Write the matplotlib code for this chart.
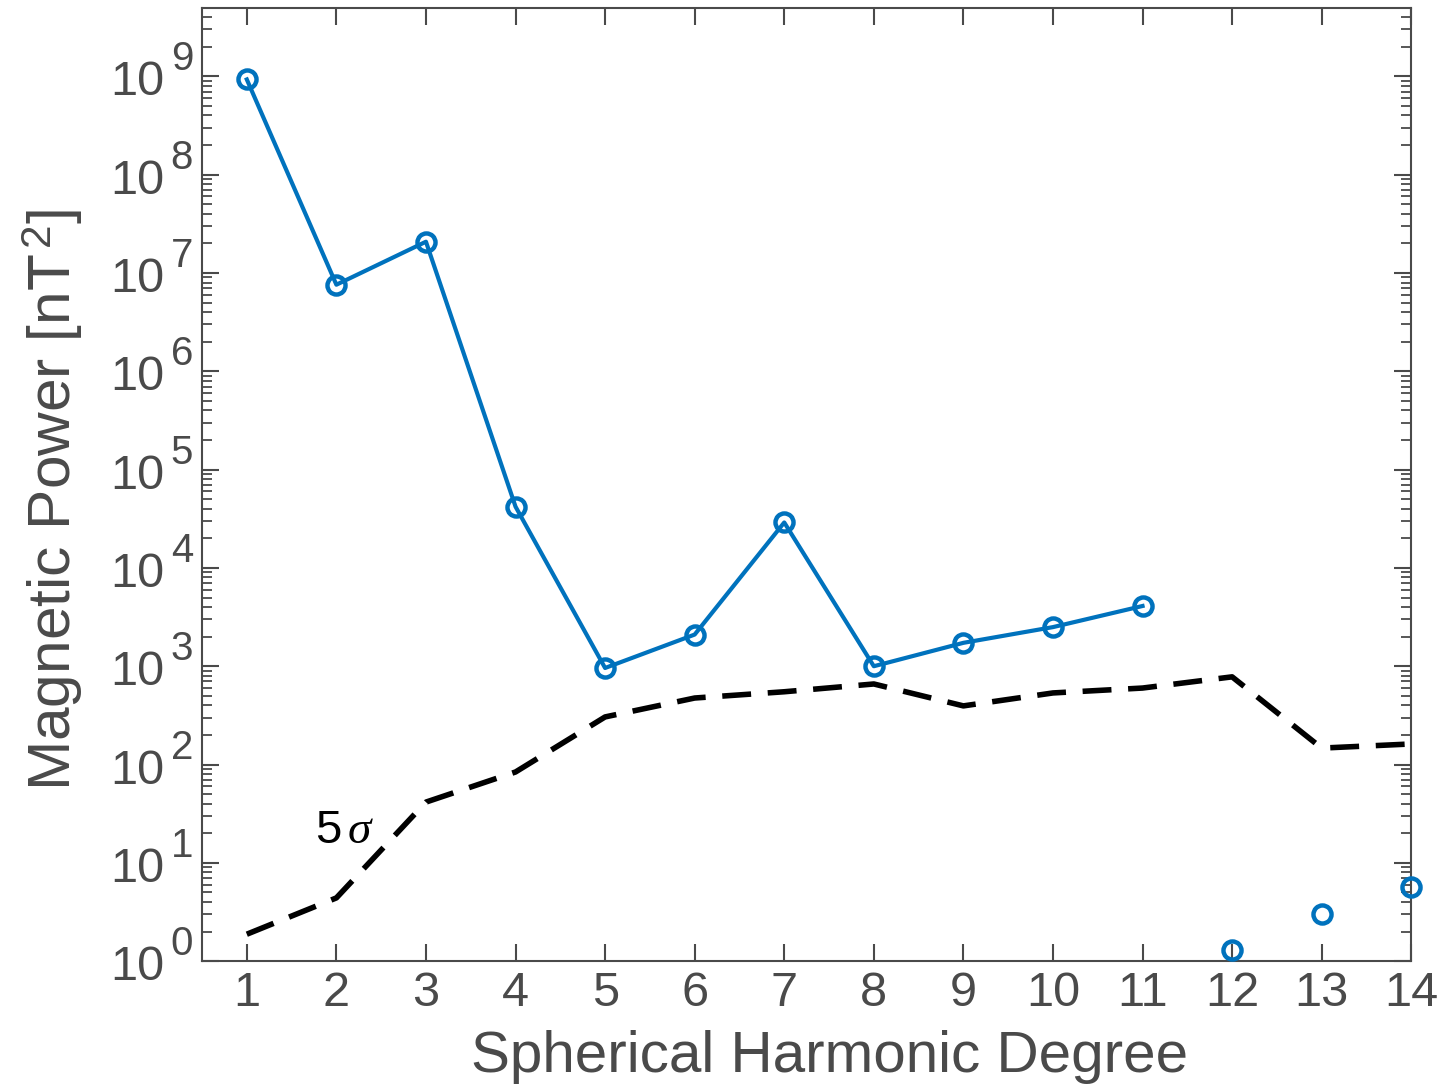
#!/usr/bin/env python3

import numpy as np
import matplotlib
matplotlib.use("Agg")
import matplotlib.pyplot as plt
from matplotlib.ticker import LogLocator, FixedLocator, NullFormatter

# spherical harmonic power spectrum of the fitted field
degree      = [1, 2, 3, 4, 5, 6, 7, 8, 9, 10, 11, 12, 13, 14]
power       = [9.3e8, 7.6e6, 2.08e7, 4.2e4, 960, 2.1e3, 2.9e4, 1.0e3, 1.73e3, 2.5e3, 4.1e3, 1.29, 3.0, 5.7]
n_connected = 11   # degrees 1..11 are joined by a line, the rest are markers only

# 5-sigma noise level
sigma5 = [1.88, 4.4, 41.5, 84, 305, 475, 550, 660, 395, 535, 600, 780, 147, 162]

y_exponents = list(range(0, 10))

plt.rcParams["font.family"] = ["Liberation Sans", "DejaVu Sans"]
plt.rcParams["mathtext.fontset"] = "custom"
plt.rcParams["mathtext.rm"] = "Liberation Sans"
plt.rcParams["mathtext.it"] = "Liberation Serif:italic"

grey = "#4a4a4a"
blue = "#0072BD"

fig = plt.figure(figsize=(14.43, 10.91), dpi=100)
ax = fig.add_axes([0.140, 0.119, 0.838, 0.874])

d = np.array(degree)
p = np.array(power)

ax.plot(d[:n_connected], p[:n_connected], color=blue, lw=3.0, zorder=3)
ax.plot(d, p, ls="none", marker="o", ms=13, mfc="none", mec=blue, mew=3.2,
        zorder=4, clip_on=False)
ax.plot(degree, sigma5, color="black", lw=4.0, dashes=(5.2, 3.0), zorder=2)

ax.text(1.76, 15.9, "5", fontsize=34, color="black", ha="left", va="baseline")
ax.text(2.12, 15.9, r"$\sigma$", fontsize=34, color="black", ha="left", va="baseline")

ax.set_yscale("log")
ax.set_xlim(0.5, 14)
ax.set_ylim(1, 5e9)

ax.xaxis.set_major_locator(FixedLocator(degree))
ax.set_xticklabels([str(v) for v in degree])
ax.yaxis.set_major_locator(FixedLocator([10.0**k for k in y_exponents]))
ax.yaxis.set_major_formatter(NullFormatter())
ax.yaxis.set_minor_locator(LogLocator(base=10, subs=np.arange(2, 10), numticks=20))
ax.yaxis.set_minor_formatter(NullFormatter())

# y tick labels written as "10" plus a raised exponent
ytrans = ax.get_yaxis_transform()
for k in y_exponents:
    ax.annotate("10", xy=(0, 10.0**k), xycoords=ytrans, xytext=(-38, -19),
                textcoords="offset pixels", ha="right", va="baseline",
                fontsize=35, color=grey, annotation_clip=False)
    ax.annotate(str(k), xy=(0, 10.0**k), xycoords=ytrans, xytext=(-9, 6),
                textcoords="offset pixels", ha="right", va="baseline",
                fontsize=29, color=grey, annotation_clip=False)

ax.tick_params(axis="both", which="major", direction="in", length=12, width=1.5,
               color=grey, labelcolor=grey, labelsize=35, top=True, right=True)
ax.tick_params(axis="both", which="minor", direction="in", length=7, width=1.3,
               color=grey, top=True, right=True)
ax.tick_params(axis="x", which="major", pad=7)

for s in ax.spines.values():
    s.set_color(grey)
    s.set_linewidth(1.5)

ax.set_xlabel("Spherical Harmonic Degree", fontsize=42, color=grey, va="top")
ax.xaxis.set_label_coords(0.519, -0.072)
ax.set_ylabel(r"Magnetic Power [nT$^{\,2}$]", fontsize=43.5, color=grey)
ax.yaxis.set_label_coords(-0.097, 0.484)

fig.savefig("out.png", dpi=100)
